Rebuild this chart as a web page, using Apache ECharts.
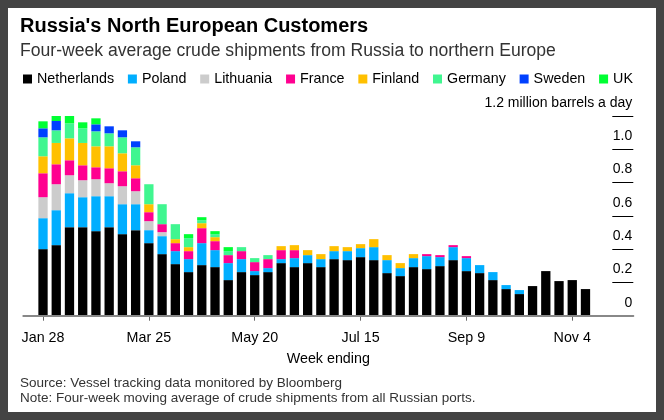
<!DOCTYPE html>
<html lang="en">
<head>
    <meta charset="UTF-8">
    <title>Russia's North European Customers</title>
    <script src="https://cdn.jsdelivr.net/npm/echarts@6.0.0/dist/echarts.min.js"></script>
    <style>
        html, body { margin: 0; padding: 0; background: #444; }
        #chart {
            width: 664px;
            height: 420px;
            box-sizing: border-box;
            border: 8px solid #444;
            background: #fff;
        }
    </style>
</head>
<body>
<div id="chart"></div>
<script>
    // week ending dates (2022)
    var weeks = [
        'Jan 28', 'Feb 4', 'Feb 11', 'Feb 18', 'Feb 25', 'Mar 4', 'Mar 11', 'Mar 18',
        'Mar 25', 'Apr 1', 'Apr 8', 'Apr 15', 'Apr 22', 'Apr 29', 'May 6', 'May 13',
        'May 20', 'May 27', 'Jun 3', 'Jun 10', 'Jun 17', 'Jun 24', 'Jul 1', 'Jul 8',
        'Jul 15', 'Jul 22', 'Jul 29', 'Aug 5', 'Aug 12', 'Aug 19', 'Aug 26', 'Sep 2',
        'Sep 9', 'Sep 16', 'Sep 23', 'Sep 30', 'Oct 7', 'Oct 14', 'Oct 21', 'Oct 28',
        'Nov 4', 'Nov 11'
    ];
    var tickLabels = ['Jan 28', 'Mar 25', 'May 20', 'Jul 15', 'Sep 9', 'Nov 4'];

    // million barrels a day
    var netherlands = [0.400, 0.424, 0.532, 0.532, 0.508, 0.532, 0.490, 0.514, 0.436, 0.370,
        0.310, 0.262, 0.304, 0.292, 0.214, 0.262, 0.244, 0.262, 0.316, 0.292,
        0.316, 0.292, 0.340, 0.334, 0.352, 0.334, 0.256, 0.238, 0.292, 0.280,
        0.298, 0.334, 0.268, 0.256, 0.214, 0.160, 0.130, 0.178, 0.268, 0.208,
        0.214, 0.160];
    var poland = [0.186, 0.210, 0.204, 0.180, 0.210, 0.186, 0.180, 0.156, 0.078, 0.108,
        0.078, 0.078, 0.132, 0.102, 0.102, 0.078, 0.024, 0.024, 0.024, 0.054,
        0.048, 0.048, 0.048, 0.054, 0.054, 0.078, 0.078, 0.048, 0.054, 0.078,
        0.054, 0.078, 0.078, 0.048, 0.048, 0.024, 0.024, 0, 0, 0,
        0, 0];
    var lithuania = [0.126, 0.156, 0.108, 0.102, 0.102, 0.078, 0.108, 0.078, 0.054, 0.024,
        0, 0, 0, 0, 0, 0, 0, 0, 0, 0,
        0, 0, 0, 0, 0, 0, 0, 0, 0, 0,
        0, 0, 0, 0, 0, 0, 0, 0, 0, 0,
        0, 0];
    var france = [0.144, 0.120, 0.090, 0.090, 0.072, 0.090, 0.090, 0.078, 0.054, 0.048,
        0.048, 0.048, 0.090, 0.054, 0.048, 0.048, 0.054, 0.054, 0.054, 0.048,
        0, 0, 0, 0, 0, 0, 0, 0, 0, 0.012,
        0.012, 0.012, 0.012, 0, 0, 0, 0, 0, 0, 0,
        0, 0];
    var finland = [0.102, 0.128, 0.132, 0.134, 0.126, 0.132, 0.108, 0.078, 0.048, 0,
        0.024, 0.024, 0.030, 0.024, 0, 0, 0, 0, 0.024, 0.030,
        0.030, 0.030, 0.030, 0.024, 0.024, 0.048, 0.030, 0.030, 0.024, 0,
        0, 0, 0, 0, 0, 0, 0, 0, 0, 0,
        0, 0];
    var germany = [0.114, 0.076, 0.090, 0.088, 0.090, 0.078, 0.096, 0.108, 0.120, 0.120,
        0.090, 0.054, 0.018, 0.018, 0.024, 0.024, 0.024, 0.024, 0, 0,
        0, 0, 0, 0, 0, 0, 0, 0, 0, 0,
        0, 0, 0, 0, 0, 0, 0, 0, 0, 0,
        0, 0];
    var sweden = [0.054, 0.056, 0, 0, 0.042, 0.042, 0.042, 0.036, 0, 0,
        0, 0, 0, 0, 0, 0, 0, 0, 0, 0,
        0, 0, 0, 0, 0, 0, 0, 0, 0, 0,
        0, 0, 0, 0, 0, 0, 0, 0, 0, 0,
        0, 0];
    var uk = [0.042, 0.054, 0.060, 0.036, 0.036, 0, 0, 0, 0, 0,
        0, 0.024, 0.018, 0.018, 0.024, 0, 0, 0, 0, 0,
        0, 0, 0, 0, 0, 0, 0, 0, 0, 0,
        0, 0, 0, 0, 0, 0, 0, 0, 0, 0,
        0, 0];

    var countries = ['Netherlands', 'Poland', 'Lithuania', 'France', 'Finland', 'Germany', 'Sweden', 'UK'];
    var colors = ['#000000', '#00aeff', '#cccccc', '#ff0090', '#ffc000', '#40f690', '#0040ff', '#00ff33'];
    var values = [netherlands, poland, lithuania, france, finland, germany, sweden, uk];

    var font = 'Liberation Sans, Arial, sans-serif';
    var chart = echarts.init(document.getElementById('chart'));

    function showTick(i, label) {
        return tickLabels.indexOf(label) >= 0;
    }

    var series = [];
    for (var k = 0; k < countries.length; k++) {
        series.push({
            name: countries[k],
            type: 'bar',
            stack: 'total',
            barWidth: 9.3,
            xAxisIndex: 0,
            yAxisIndex: 0,
            itemStyle: {color: colors[k]},
            emphasis: {disabled: true},
            data: values[k]
        });
    }

    var plotTop = 108, plotBottom = 96.3;

    var option = {
        animation: false,
        textStyle: {fontFamily: font},
        title: [{
            text: "Russia's North European Customers",
            left: 7,
            top: 3,
            textStyle: {fontSize: 20, fontWeight: 'bold', color: '#000', fontFamily: font}
        }, {
            text: 'Four-week average crude shipments from Russia to northern Europe',
            left: 7,
            top: 29,
            textStyle: {fontSize: 17.6, fontWeight: 'normal', color: '#333', fontFamily: font}
        }, {
            text: 'Source: Vessel tracking data monitored by Bloomberg\nNote: Four-week moving average of crude shipments from all Russian ports.',
            left: 7,
            top: 363,
            textStyle: {fontSize: 13.5, fontWeight: 'normal', color: '#333', lineHeight: 15, fontFamily: font}
        }],
        legend: {
            data: countries,
            left: 10,
            top: 59,
            icon: 'rect',
            itemWidth: 9,
            itemHeight: 9,
            itemGap: 13.8,
            selectedMode: false,
            textStyle: {fontSize: 14.3, color: '#000', fontFamily: font}
        },
        grid: [{
            // bars
            left: 28.4,
            right: 63.9,
            top: plotTop,
            bottom: plotBottom
        }, {
            // full-width baseline
            left: 15.3,
            right: 22.7,
            top: plotTop,
            bottom: plotBottom
        }, {
            // short gridlines + labels at the right
            left: 604.3,
            right: 22.7,
            top: plotTop,
            bottom: plotBottom
        }],
        xAxis: [{
            type: 'category',
            gridIndex: 0,
            data: weeks,
            axisLine: {show: false},
            axisTick: {show: true, alignWithLabel: true, interval: showTick, length: 5, lineStyle: {color: '#666', width: 1}},
            axisLabel: {
                interval: showTick,
                margin: 15,
                fontSize: 14.3,
                color: '#000',
                fontFamily: font
            },
            splitLine: {show: false}
        }, {
            type: 'value',
            gridIndex: 1,
            z: 10,
            min: 0,
            max: 1,
            name: 'Week ending',
            nameLocation: 'middle',
            nameGap: 36,
            nameTextStyle: {fontSize: 14.3, color: '#000', fontFamily: font},
            axisLine: {show: true, lineStyle: {color: '#888', width: 2}},
            axisTick: {show: false},
            axisLabel: {show: false},
            splitLine: {show: false}
        }, {
            type: 'value',
            gridIndex: 2,
            min: 0,
            max: 1,
            show: false
        }],
        yAxis: [{
            type: 'value',
            gridIndex: 0,
            min: 0,
            max: 1.2,
            show: false
        }, {
            type: 'value',
            gridIndex: 1,
            min: 0,
            max: 1.2,
            show: false
        }, {
            type: 'value',
            gridIndex: 2,
            position: 'right',
            z: 1,
            min: 0,
            max: 1.2,
            interval: 0.2,
            axisLine: {show: false},
            axisTick: {show: false},
            splitLine: {show: true, lineStyle: {color: '#000', width: 1}},
            axisLabel: {
                inside: true,
                margin: 1,
                verticalAlign: 'bottom',
                padding: [0, 0, 6, 0],
                fontSize: 14,
                color: '#000',
                fontFamily: font,
                formatter: function (v) {
                    if (v === 0) return '0';
                    if (Math.abs(v - 1.2) < 1e-6) return '1.2 million barrels a day';
                    return v.toFixed(1);
                }
            }
        }],
        series: series
    };
    chart.setOption(option);
</script>
</body>
</html>
